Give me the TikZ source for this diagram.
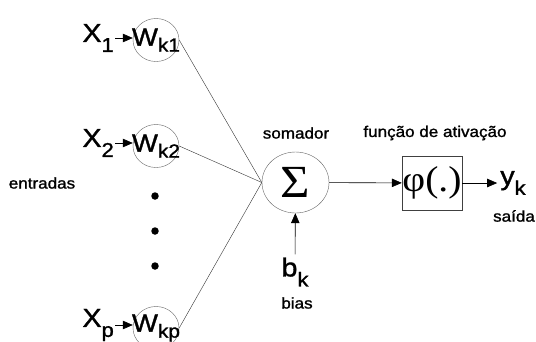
\documentclass[tikz,border=0pt]{standalone}
\usepackage{graphicx}
\usepackage{fontspec}
\setmainfont{Liberation Sans}[FakeBold=1.2]
\newfontfamily\greekfont{Liberation Serif}
\usetikzlibrary{arrows.meta,shapes.geometric}

% all lettering is a little wide
\newcommand{\wide}[1]{\scalebox{1.1}[1]{#1}}
% big letter with a lowered index
\newcommand{\bigsub}[2]{\wide{\fontsize{26}{26}\selectfont #1\raisebox{-10pt}{\fontsize{20}{20}\selectfont #2}}}
% weight label inside the small circles
\newcommand{\wsub}[1]{\wide{\fontsize{25}{25}\selectfont W\raisebox{-6pt}{\fontsize{19}{19}\selectfont #1}}}

\begin{document}
\begin{tikzpicture}[x=1pt,y=-1pt]
  \tikzstyle{wnode} = [draw=black!60, thin, ellipse, inner sep=0pt, minimum width=46pt, minimum height=43pt]
  \tikzstyle{snode} = [draw=black!60, thin, ellipse, inner sep=0pt, minimum width=67pt, minimum height=61pt]
  \tikzstyle{fnode} = [draw=black!75, thin, rectangle, inner sep=0pt, minimum width=60pt, minimum height=54pt]
  \tikzstyle{dotnode} = [fill=black, circle, inner sep=0pt, minimum size=7.5pt]
  \tikzstyle{txt} = [inner sep=2pt, font=\fontsize{15.5}{15.5}\selectfont]
  \tikzstyle{arr} = [-{Triangle[length=10pt,width=8.5pt]}, black, semithick]
  \tikzstyle{wire} = [black!80, thin]
  \useasboundingbox (0,0) rectangle (536,341);

  % inputs and weights
  \node[inner sep=1pt, anchor=east] (x1) at (115,38) {\bigsub{X}{1}};
  \node[inner sep=1pt, anchor=east] (x2) at (115,143) {\bigsub{X}{2}};
  \node[inner sep=1pt, anchor=east] (xp) at (115,325) {\bigsub{X}{p}};
  \node[wnode, label=center:{\wsub{k1}}] (w1) at (156,40) {};
  \node[wnode, label=center:{\wsub{k2}}] (w2) at (156,146) {};
  \node[wnode, label=center:{\wsub{kp}}] (wp) at (156,328) {};
  \draw[arr] (x1) -- (x1 -| w1.west);
  \draw[arr] (x2) -- (x2 -| w2.west);
  \draw[arr] (xp) -- (xp -| wp.west);

  \node[dotnode] (d1) at (155,196) {};
  \node[dotnode] (d2) at (155,231) {};
  \node[dotnode] (d3) at (155,266) {};
  \node[txt] (inp) at (42,183) {\wide{entradas}};

  % summing junction
  \node[snode] (sum) at (295.5,182.5) {\wide{\greekfont\fontsize{46}{46}\selectfont Σ}};
  \node[txt] (sumlbl) at (296,133) {\wide{somador}};
  \draw[wire] (w1.east) -- (sum.west);
  \draw[wire] (w2.east) -- (sum.west);
  \draw[wire] (wp.east) -- (sum.west);

  % bias
  \node[inner sep=3pt] (bk) at (295,272) {\bigsub{b}{k}};
  \node[txt] (biaslbl) at (297,303) {\wide{bias}};
  \draw[arr] (bk) -- (sum);

  % activation and output
  \node[fnode] (phi) at (432,183) {\wide{\greekfont\fontsize{36}{36}\selectfont φ(.)}};
  \node[txt] (philbl) at (435,133) {\wide{função de ativação}};
  \draw[arr] (sum) -- (phi);
  \node[inner sep=3pt] (yk) at (513,183) {\bigsub{y}{k}};
  \node[txt] (outlbl) at (514,216) {\wide{saída}};
  \draw[arr] (phi) -- (yk);
\end{tikzpicture}
\end{document}
